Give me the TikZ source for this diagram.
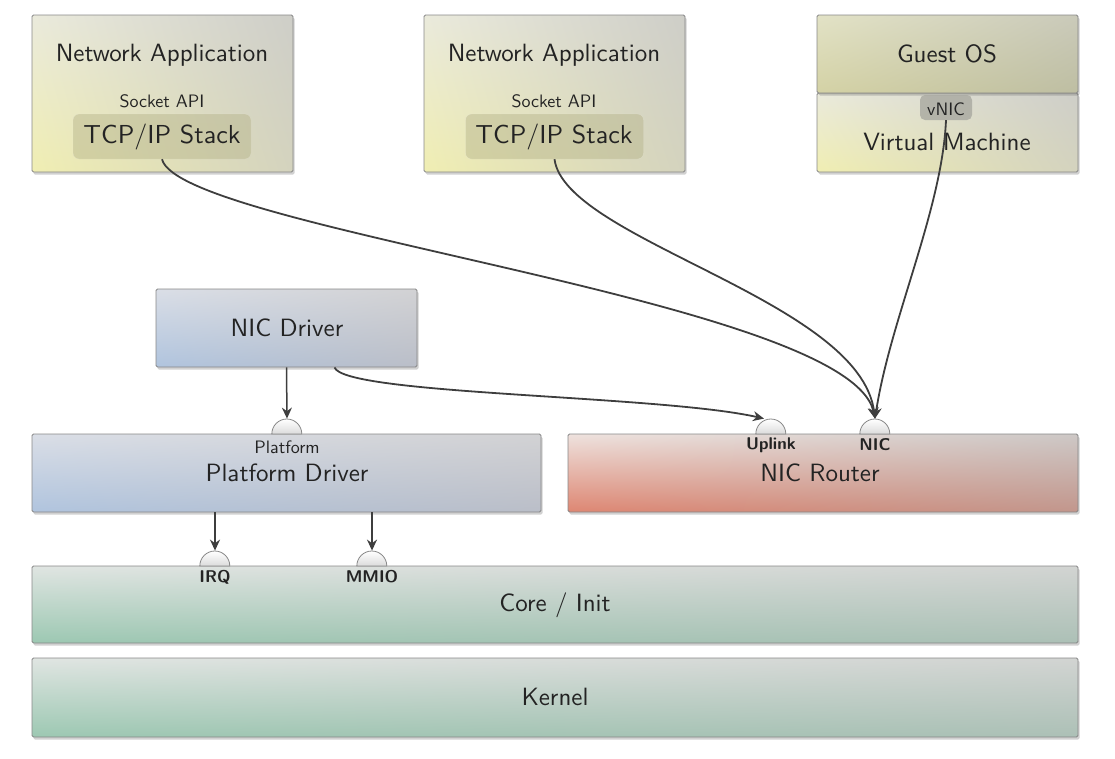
\documentclass[tikz,border=0pt]{standalone}
\usepackage{fontspec}
\setsansfont{lmsans10-regular.otf}[BoldFont=lmsans10-bold.otf]
\usetikzlibrary{arrows.meta,shadows,shadings}
% corner colours: lower left, lower right, upper left, upper right
\definecolor{ylwLL}{RGB}{240,238,178}
\definecolor{ylwLR}{RGB}{212,211,190}
\definecolor{ylwUL}{RGB}{234,234,220}
\definecolor{ylwUR}{RGB}{206,206,200}
\definecolor{olvLL}{RGB}{212,210,165}
\definecolor{olvLR}{RGB}{190,190,162}
\definecolor{olvUL}{RGB}{226,226,198}
\definecolor{olvUR}{RGB}{202,202,186}
\definecolor{bluLL}{RGB}{176,196,222}
\definecolor{bluLR}{RGB}{186,190,200}
\definecolor{bluUL}{RGB}{218,222,230}
\definecolor{bluUR}{RGB}{210,210,212}
\definecolor{rtrLL}{RGB}{222,134,114}
\definecolor{rtrLR}{RGB}{194,150,140}
\definecolor{rtrUL}{RGB}{238,226,222}
\definecolor{rtrUR}{RGB}{205,200,198}
\definecolor{grnLL}{RGB}{156,200,178}
\definecolor{grnLR}{RGB}{172,192,182}
\definecolor{grnUL}{RGB}{224,229,226}
\definecolor{grnUR}{RGB}{210,212,210}
\definecolor{bord}{RGB}{135,135,135}
\definecolor{txt}{RGB}{35,35,35}
\definecolor{arr}{RGB}{62,62,62}
\definecolor{inner}{RGB}{180,178,136}
\definecolor{vnicc}{RGB}{168,168,160}
\tikzset{
  boxbase/.style={rectangle, draw=bord, line width=0.9pt, inner sep=0pt, rounded corners=1.5pt,
    drop shadow={shadow xshift=1.5pt, shadow yshift=-2.5pt, opacity=0.3, fill=black!60},
    shade, shading=bilinear interpolation},
  ylwbox/.style={boxbase, lower left=ylwLL, lower right=ylwLR, upper left=ylwUL, upper right=ylwUR},
  olvbox/.style={boxbase, lower left=olvLL, lower right=olvLR, upper left=olvUL, upper right=olvUR},
  blubox/.style={boxbase, lower left=bluLL, lower right=bluLR, upper left=bluUL, upper right=bluUR},
  rtrbox/.style={boxbase, lower left=rtrLL, lower right=rtrLR, upper left=rtrUL, upper right=rtrUR},
  grnbox/.style={boxbase, lower left=grnLL, lower right=grnLR, upper left=grnUL, upper right=grnUR},
  innerbox/.style={rectangle, rounded corners=6pt, fill=inner, fill opacity=0.45, draw=white, draw opacity=0.25, inner sep=0pt},
  vnicbox/.style={rectangle, rounded corners=5pt, fill=vnicc, fill opacity=0.8, inner sep=0pt},
  bigtext/.style={text=txt, inner sep=0pt, font=\sffamily\fontsize{25}{30}\selectfont, text height=17.3pt, text depth=0pt},
  tcptext/.style={text=txt, inner sep=0pt, font=\sffamily\fontsize{26}{31}\selectfont, text height=18pt, text depth=0pt},
  smalltext/.style={text=txt, inner sep=0pt, font=\sffamily\fontsize{18}{22}\selectfont, text height=12.5pt, text depth=0pt},
  porttext/.style={text=txt, inner sep=0pt, font=\sffamily\bfseries\fontsize{17}{20}\selectfont, text height=11.8pt, text depth=0pt},
  port/.style={rectangle, inner sep=0pt, minimum width=30pt, minimum height=15pt, anchor=south},
  dome/.style={top color=white, bottom color=black!14, draw=bord, line width=0.8pt},
  conn/.style={draw=arr, line width=1.8pt, -{Stealth[length=11pt,width=10pt]}},
}
\begin{document}
\begin{tikzpicture}[x=1pt,y=-1pt]
\useasboundingbox (0,0) rectangle (1115,758);

% top row
\node[ylwbox, minimum width=261pt, minimum height=157pt] (app1) at (162.5,93.5) {};
\node[bigtext] (app1lbl) at (162,53) {Network Application};
\node[smalltext] (sock1) at (162,101) {Socket API};
\node[innerbox, minimum width=178pt, minimum height=45pt] (tcp1) at (162,136.5) {};
\node[tcptext] (tcp1lbl) at (162,134) {TCP/IP Stack};

\node[ylwbox, minimum width=261pt, minimum height=157pt] (app2) at (554.5,93.5) {};
\node[bigtext] (app2lbl) at (554,53) {Network Application};
\node[smalltext] (sock2) at (554,101) {Socket API};
\node[innerbox, minimum width=178pt, minimum height=45pt] (tcp2) at (554.5,136.5) {};
\node[tcptext] (tcp2lbl) at (554,134) {TCP/IP Stack};

\node[ylwbox, minimum width=261pt, minimum height=79pt] (vm) at (947.5,132.5) {};
\node[olvbox, minimum width=261pt, minimum height=78pt] (guest) at (947.5,54) {};
\node[bigtext] (guestlbl) at (947,54) {Guest OS};
\node[bigtext] (vmlbl) at (947,141.5) {Virtual Machine};
\node[vnicbox, minimum width=52pt, minimum height=25pt] (vnic) at (946,107.5) {};
\node[smalltext] (vniclbl) at (946,109) {vNIC};

% middle
\node[blubox, minimum width=261pt, minimum height=78pt] (nicdrv) at (286.5,328) {};
\node[bigtext] (nicdrvlbl) at (287,328) {NIC Driver};

\node[blubox, minimum width=509pt, minimum height=78pt] (platdrv) at (286.5,473) {};
\node[bigtext] (platdrvlbl) at (287,473) {Platform Driver};
\node[rtrbox, minimum width=510pt, minimum height=78pt] (router) at (823,473) {};
\node[bigtext] (routerlbl) at (820,473) {NIC Router};

% bottom
\node[grnbox, minimum width=1046pt, minimum height=77pt] (core) at (555,604.5) {};
\node[bigtext] (corelbl) at (555,603) {Core / Init};
\node[grnbox, minimum width=1046pt, minimum height=79pt] (kernel) at (555,697.5) {};
\node[bigtext] (kernellbl) at (555,697) {Kernel};

% ports
\node[port] (platp) at (287,434) {};
\node[port] (uplp) at (771,434) {};
\node[port] (nicp) at (875,434) {};
\node[port] (irqp) at (215,566) {};
\node[port] (mmiop) at (372,566) {};
\foreach \p in {platp,uplp,nicp,irqp,mmiop}
  \shade[dome] (\p.south west) arc[start angle=180, end angle=0, radius=15pt] -- cycle;

\node[smalltext] (platlbl) at (287,447.5) {Platform};
\node[porttext] (upllbl) at (771,444) {Uplink};
\node[porttext] (niclbl) at (875,445) {NIC};
\node[porttext] (irqlbl) at (215,577) {IRQ};
\node[porttext] (mmiolbl) at (372,577) {MMIO};

% connectors
\draw[conn, line width=1.5pt] (nicdrv.south) -- (platp.north);
\draw[conn, line width=1.5pt] (irqp.north |- platdrv.south) -- (irqp.north);
\draw[conn, line width=1.5pt] (mmiop.north |- platdrv.south) -- (mmiop.north);
\draw[conn] ([xshift=48pt]nicdrv.south) .. controls (345,395) and (660,395) .. ([xshift=-7pt]uplp.north);
\draw[conn] (tcp1.south) .. controls (180,230) and (850,300) .. (nicp.north);
\draw[conn] (tcp2.south) .. controls (565,240) and (860,300) .. (nicp.north);
\draw[conn] (vnic.south) .. controls (942,210) and (890,320) .. (nicp.north);
\end{tikzpicture}
\end{document}
